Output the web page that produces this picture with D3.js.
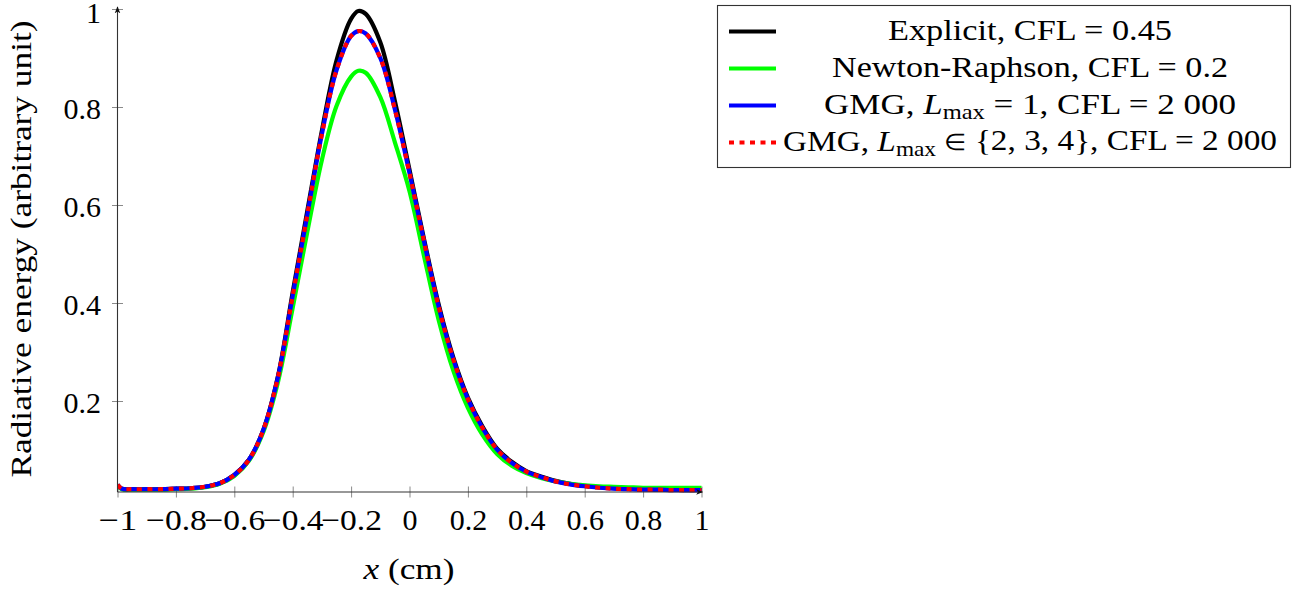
<!DOCTYPE html>
<html>
<head>
<meta charset="utf-8">
<script src="https://cdn.jsdelivr.net/npm/d3@7"></script>
<style>
  html, body { margin: 0; padding: 0; background: #fff; }
  svg { display: block; }
  svg text { font-family: "Liberation Serif", "Times New Roman", serif; }
</style>
</head>
<body>
<svg id="chart" width="1304" height="592"></svg>
<script>
// ---- data ----
const xs = [-1, -0.985, -0.95, -0.9, -0.85, -0.8, -0.75, -0.7, -0.65, -0.6,
            -0.55, -0.5, -0.45, -0.4, -0.35, -0.3, -0.25, -0.2, -0.175, -0.15,
            -0.1, -0.05, 0, 0.05, 0.1, 0.15, 0.2, 0.25, 0.3, 0.35,
            0.4, 0.45, 0.5, 0.55, 0.6, 0.65, 0.7, 0.75, 0.8, 0.85,
            0.9, 0.95, 1];

const explicitVals = [0.029, 0.021, 0.020, 0.020, 0.020, 0.021, 0.022, 0.025, 0.032, 0.049,
                      0.080, 0.142, 0.252, 0.422, 0.588, 0.752, 0.895, 0.980, 0.996, 0.990,
                      0.932, 0.812, 0.672, 0.530, 0.397, 0.289, 0.207, 0.148, 0.103, 0.076,
                      0.057, 0.046, 0.037, 0.031, 0.027, 0.024, 0.022, 0.021, 0.020, 0.019,
                      0.019, 0.018, 0.018];

const newtonVals = [0.027, 0.020, 0.019, 0.019, 0.019, 0.020, 0.021, 0.024, 0.031, 0.047,
                    0.078, 0.138, 0.240, 0.390, 0.545, 0.692, 0.802, 0.862, 0.874, 0.870,
                    0.820, 0.728, 0.628, 0.495, 0.365, 0.262, 0.186, 0.131, 0.092, 0.068,
                    0.053, 0.043, 0.036, 0.031, 0.028, 0.026, 0.025, 0.024, 0.023, 0.023,
                    0.023, 0.023, 0.023];

const gmg1Vals = [0.029, 0.021, 0.020, 0.020, 0.020, 0.021, 0.022, 0.025, 0.032, 0.049,
                  0.080, 0.142, 0.250, 0.415, 0.580, 0.745, 0.875, 0.945, 0.955, 0.950,
                  0.900, 0.795, 0.665, 0.525, 0.392, 0.285, 0.204, 0.145, 0.101, 0.074,
                  0.056, 0.045, 0.036, 0.030, 0.026, 0.023, 0.021, 0.020, 0.019, 0.019,
                  0.018, 0.018, 0.018];

const gmg234Vals = [0.029, 0.021, 0.020, 0.020, 0.020, 0.021, 0.022, 0.025, 0.032, 0.049,
                    0.080, 0.142, 0.250, 0.415, 0.580, 0.745, 0.875, 0.945, 0.955, 0.950,
                    0.900, 0.795, 0.665, 0.525, 0.392, 0.285, 0.204, 0.145, 0.101, 0.074,
                    0.056, 0.045, 0.036, 0.030, 0.026, 0.023, 0.021, 0.020, 0.019, 0.019,
                    0.018, 0.018, 0.018];

const xTicks = [-1, -0.8, -0.6, -0.4, -0.2, 0, 0.2, 0.4, 0.6, 0.8, 1];
const xTickLabels = ["\u22121", "\u22120.8", "\u22120.6", "\u22120.4", "\u22120.2", "0", "0.2", "0.4", "0.6", "0.8", "1"];
const yTicks = [0.2, 0.4, 0.6, 0.8, 1];
const yTickLabels = ["0.2", "0.4", "0.6", "0.8", "1"];
const xDomain = [-1, 1];
const yDomain = [0.0143, 1.0041];

// ---- layout ----
const FONT = '"Liberation Serif", "Times New Roman", serif';
const svg = d3.select("#chart");
const x = d3.scaleLinear().domain(xDomain).range([117.5, 701.5]);
const y = d3.scaleLinear().domain(yDomain).range([492, 7]);
const FS = 30;

// arrow marker
const defs = svg.append("defs");
defs.append("marker")
  .attr("id", "arrow").attr("viewBox", "0 0 10 10")
  .attr("refX", 9).attr("refY", 5)
  .attr("markerWidth", 7).attr("markerHeight", 7)
  .attr("markerUnits", "userSpaceOnUse")
  .attr("orient", "auto")
  .append("path").attr("d", "M0,1 L10,5 L0,9 L2.5,5 Z").attr("fill", "#111");

defs.append("clipPath").attr("id", "plotclip")
  .append("rect").attr("x", x(-1)).attr("y", 0).attr("width", x(1) - x(-1) + 2).attr("height", y(yDomain[0]) + 1);

// x axis
const xAxis = d3.axisBottom(x).tickValues(xTicks).tickFormat((d, i) => xTickLabels[i]).tickSizeOuter(0);
const gx = svg.append("g").attr("transform", `translate(0,${y(yDomain[0])})`).call(xAxis)
  .attr("font-family", null).attr("font-size", null);
gx.select(".domain").remove();
gx.selectAll(".tick line").attr("y1", -5.5).attr("y2", 5.5).attr("stroke", "#8a8a8a").attr("stroke-width", 1);
gx.selectAll(".tick text").attr("y", 0).attr("dy", 0)
  .attr("transform", "translate(0,38)")
  .style("font-family", FONT).style("font-size", FS + "px").attr("fill", "#000")
  .each(function (d, i) {
    // TeX minus sign is wider than the Times one
    if (xTickLabels[i].startsWith("\u2212")) {
      const w = this.getComputedTextLength();
      d3.select(this).attr("textLength", w + 6.4).attr("lengthAdjust", "spacingAndGlyphs");
    }
  });

// y axis
const yAxis = d3.axisLeft(y).tickValues(yTicks).tickFormat((d, i) => yTickLabels[i]).tickSizeOuter(0);
const gy = svg.append("g").attr("transform", `translate(${x(-1)},0)`).call(yAxis)
  .attr("font-family", null).attr("font-size", null);
gy.select(".domain").remove();
gy.selectAll(".tick line").attr("x1", -5.5).attr("x2", 5.5).attr("stroke", "#8a8a8a").attr("stroke-width", 1);
gy.selectAll(".tick text").attr("x", -16.5).attr("dy", "0.39em")
  .attr("y", d => (y(d) < 12 ? 2 : 0))
  .style("font-family", FONT).style("font-size", FS + "px").attr("fill", "#000");

// series
const series = [
  { vals: explicitVals, color: "#000000", dash: null },
  { vals: newtonVals, color: "#00ff00", dash: null },
  { vals: gmg1Vals, color: "#0000ff", dash: null },
  { vals: gmg234Vals, color: "#ff0000", dash: "5,5.5" }
];
const line = d3.line().x((d, i) => x(xs[i])).y(d => y(d)).curve(d3.curveCatmullRom.alpha(0.5));
const plot = svg.append("g").attr("clip-path", "url(#plotclip)");
series.forEach(s => {
  plot.append("path").datum(s.vals)
    .attr("d", line)
    .attr("fill", "none")
    .attr("stroke", s.color)
    .attr("stroke-width", 4.2)
    .attr("stroke-linejoin", "round")
    .attr("stroke-dasharray", s.dash);
});

// axis lines with arrows
svg.append("line")
  .attr("x1", x(-1)).attr("y1", y(yDomain[0])).attr("x2", x(1) + 1).attr("y2", y(yDomain[0]))
  .attr("stroke", "#333").attr("stroke-width", 1.1).attr("marker-end", "url(#arrow)");
svg.append("line")
  .attr("x1", x(-1)).attr("y1", y(yDomain[0])).attr("x2", x(-1)).attr("y2", y(yDomain[1]))
  .attr("stroke", "#333").attr("stroke-width", 1.1).attr("marker-end", "url(#arrow)");

// axis labels
const xl = svg.append("text").attr("x", 409).attr("y", 579).attr("text-anchor", "middle")
  .style("font-family", FONT).style("font-size", FS + "px")
  .attr("textLength", 91).attr("lengthAdjust", "spacingAndGlyphs");
xl.append("tspan").attr("font-style", "italic").text("x");
xl.append("tspan").text(" (cm)");

svg.append("text")
  .attr("transform", "translate(31,249) rotate(-90)")
  .attr("text-anchor", "middle").style("font-family", FONT).style("font-size", FS + "px")
  .attr("textLength", 457).attr("lengthAdjust", "spacingAndGlyphs")
  .text("Radiative energy (arbitrary unit)");

// legend
const legendEntries = [
  { parts: [["Explicit, CFL = 0.45", null]], width: 284 },
  { parts: [["Newton-Raphson, CFL = 0.2", null]], width: 396 },
  { parts: [["GMG, ", null], ["L", "it"], ["max", "sub"], [" = 1, CFL = 2\u00a0000", "up"]], width: 412 },
  { parts: [["GMG, ", null], ["L", "it"], ["max", "sub"], [" ", "up"], ["\u2208", "small"], [" {2, 3, 4}, CFL = 2\u00a0000", null]], width: 494 }
];
const lg = svg.append("g");
lg.append("rect").attr("x", 717.5).attr("y", 5.5).attr("width", 573).attr("height", 162)
  .attr("fill", "#fff").attr("stroke", "#333").attr("stroke-width", 1.1);
const rowY = [31.5, 68.5, 105.5, 142.5];
legendEntries.forEach((e, i) => {
  const s = series[i];
  lg.append("line").attr("x1", 729).attr("x2", 776).attr("y1", rowY[i]).attr("y2", rowY[i])
    .attr("stroke", s.color).attr("stroke-width", 4.2).attr("stroke-dasharray", s.dash);
  const t = lg.append("text").attr("x", 1030).attr("y", rowY[i] + 8)
    .attr("text-anchor", "middle").style("font-family", FONT).style("font-size", FS + "px")
    .attr("textLength", e.width).attr("lengthAdjust", "spacingAndGlyphs");
  e.parts.forEach(p => {
    const ts = t.append("tspan").text(p[0]);
    if (p[1] === "it") ts.attr("font-style", "italic");
    if (p[1] === "sub") ts.style("font-size", "21px").attr("dy", 5);
    if (p[1] === "up") ts.attr("dy", -5);
    if (p[1] === "small") ts.style("font-size", "23px").attr("dy", -1);
  });
});
</script>
</body>
</html>
